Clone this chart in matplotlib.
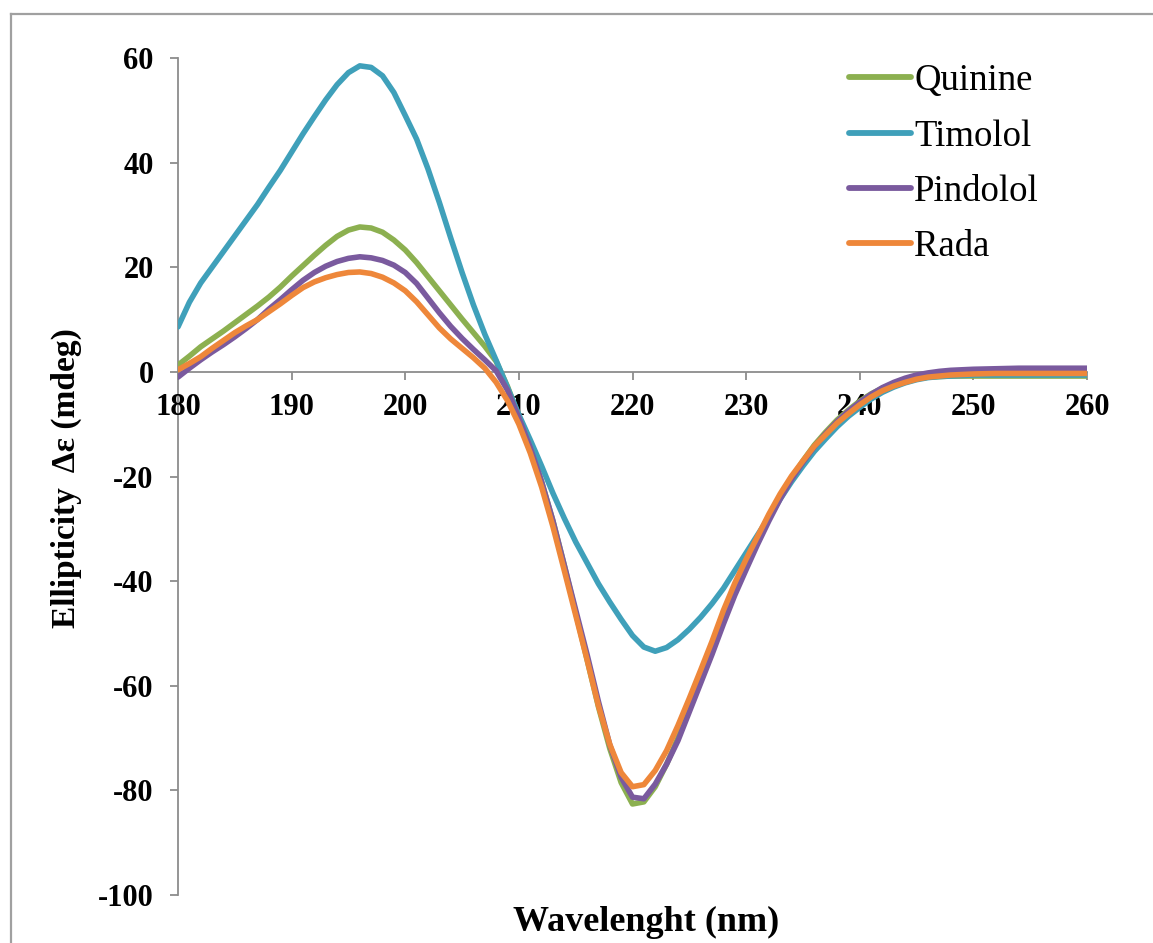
import matplotlib
matplotlib.use("Agg")
import matplotlib.pyplot as plt
from matplotlib.lines import Line2D

wavelength = list(range(180, 251)) + [252, 254, 256, 258, 260]

quinine = [1.3, 3.0, 4.8, 6.3, 7.8, 9.4, 11.0, 12.6, 14.3, 16.2,
           18.3, 20.3, 22.3, 24.2, 25.9, 27.1, 27.7, 27.5, 26.7, 25.2,
           23.3, 20.9, 18.2, 15.5, 12.8, 10.1, 7.5, 4.9, 2.0, -2.8,
           -8.5, -14.5, -21.0, -28.5, -37.0, -46.0, -55.0, -64.0, -72.0, -78.5,
           -82.6, -82.2, -79.3, -75.0, -70.0, -64.5, -59.0, -53.5, -47.5, -42.0,
           -37.0, -32.3, -28.0, -24.0, -20.3, -17.0, -14.0, -11.5, -9.2, -7.3,
           -5.6, -4.2, -3.1, -2.3, -1.7, -1.3, -1.0, -0.9, -0.8, -0.8,
           -0.8, -0.8, -0.8, -0.8, -0.8, -0.8]

timolol = [8.6, 13.3, 17.0, 20.0, 23.0, 26.0, 29.0, 32.0, 35.3, 38.5,
           42.0, 45.5, 48.8, 52.0, 54.9, 57.2, 58.5, 58.2, 56.6, 53.4,
           49.0, 44.5, 38.8, 32.4, 25.6, 19.0, 12.8, 7.2, 2.2, -3.0,
           -8.2, -13.0, -18.0, -23.2, -28.0, -32.5, -36.5, -40.5, -44.0, -47.3,
           -50.4, -52.6, -53.4, -52.7, -51.2, -49.2, -46.9, -44.3, -41.4, -38.0,
           -34.6, -31.2, -27.8, -24.3, -21.0, -18.0, -15.2, -12.8, -10.5, -8.5,
           -6.8, -5.2, -3.9, -2.9, -2.1, -1.5, -1.1, -0.9, -0.8, -0.7,
           -0.6, -0.6, -0.6, -0.6, -0.6, -0.6]

pindolol = [-1.0, 0.7, 2.3, 3.8, 5.2, 6.7, 8.3, 10.0, 12.0, 13.8,
            15.7, 17.5, 19.0, 20.2, 21.1, 21.7, 22.0, 21.8, 21.3, 20.4,
            19.0, 16.9, 14.1, 11.3, 8.7, 6.4, 4.3, 2.3, 0.2, -3.5,
            -8.8, -14.5, -21.0, -28.5, -37.0, -45.5, -54.0, -63.0, -71.3, -77.5,
            -81.3, -81.6, -78.8, -75.0, -70.5, -65.0, -59.5, -54.0, -48.2, -42.7,
            -37.8, -33.0, -28.5, -24.3, -20.5, -17.3, -14.3, -11.8, -9.5, -7.5,
            -5.8, -4.3, -3.0, -2.0, -1.2, -0.6, -0.2, 0.1, 0.3, 0.4,
            0.5, 0.6, 0.7, 0.7, 0.7, 0.7]

rada = [0.4, 1.6, 2.9, 4.5, 6.0, 7.5, 8.8, 10.0, 11.5, 13.0,
        14.6, 16.1, 17.2, 18.0, 18.6, 19.0, 19.1, 18.8, 18.1, 17.0,
        15.5, 13.4, 10.9, 8.4, 6.3, 4.5, 2.7, 0.7, -2.0, -5.5,
        -10.0, -15.5, -22.0, -29.6, -38.0, -46.5, -55.0, -63.8, -71.2, -76.6,
        -79.3, -78.9, -76.2, -72.4, -67.6, -62.4, -57.0, -51.5, -45.6, -40.4,
        -35.8, -31.5, -27.2, -23.3, -19.9, -17.0, -14.2, -12.0, -9.8, -8.0,
        -6.3, -4.8, -3.6, -2.7, -2.0, -1.4, -1.0, -0.8, -0.6, -0.5,
        -0.4, -0.3, -0.3, -0.3, -0.3, -0.3]

series_names = ["Quinine", "Timolol", "Pindolol", "Rada"]
series_values = [quinine, timolol, pindolol, rada]
series_colors = ["#8CB050", "#3FA0BA", "#7A5A9E", "#EE873A"]

x_ticks = [180, 190, 200, 210, 220, 230, 240, 250, 260]
y_ticks = [-100, -80, -60, -40, -20, 0, 20, 40, 60]

serif = ["Liberation Serif", "DejaVu Serif"]
plt.rcParams["font.family"] = serif

W, H = 1153, 943
fig = plt.figure(figsize=(W / 100, H / 100), dpi=100)
ax = fig.add_axes([178 / W, 1 - 895 / H, (1087 - 178) / W, (895 - 58) / H])

for name, vals, col in zip(series_names, series_values, series_colors):
    ax.plot(wavelength, vals, color=col, lw=4.0, solid_capstyle="round",
            solid_joinstyle="round", label=name)

ax.set_xlim(180, 260)
ax.set_ylim(-100, 60)
ax.set_xticks(x_ticks)
ax.set_yticks(y_ticks)
ax.set_xticklabels([str(t) for t in x_ticks])
ax.set_yticklabels([str(t) for t in y_ticks])

spine_col = "#8C8C8C"
ax.spines["top"].set_visible(False)
ax.spines["right"].set_visible(False)
ax.spines["bottom"].set_position(("data", 0))
for s in ("left", "bottom"):
    ax.spines[s].set_color(spine_col)
    ax.spines[s].set_linewidth(1.3)
    ax.spines[s].set_zorder(0.5)

ax.tick_params(axis="x", direction="out", length=5.5, width=1.3, color=spine_col,
               pad=10, labelsize=22)
ax.tick_params(axis="y", direction="out", length=5.5, width=1.3, color=spine_col,
               pad=12, labelsize=22)
for lab in ax.get_xticklabels() + ax.get_yticklabels():
    lab.set_fontweight("bold")

fig.text(66 / W, 1 - 478 / H, "Ellipticity  \u0394\u03b5 (mdeg)", rotation=90,
         ha="center", va="center", fontsize=24, fontweight="bold", family=serif)
fig.text(646 / W, 1 - 922 / H, "Wavelenght (nm)", ha="center", va="center",
         fontsize=26, fontweight="bold", family=serif)

# legend drawn manually to match the reference placement
legend_rows_px = [77, 133, 188, 243]
for name, col, ypx in zip(series_names, series_colors, legend_rows_px):
    yf = 1 - ypx / H
    fig.add_artist(Line2D([849 / W, 911 / W], [yf, yf], transform=fig.transFigure,
                          color=col, lw=4.2, solid_capstyle="round"))
    fig.text(914 / W, 1 - (ypx + 13) / H, name, ha="left", va="baseline",
             fontsize=26.5, family=serif, color="black")

# figure border (left and top edges visible)
fig.add_artist(Line2D([11 / W, 11 / W], [0, 1 - 14 / H], transform=fig.transFigure,
                      color="#A0A0A0", lw=1.6))
fig.add_artist(Line2D([11 / W, 1], [1 - 14 / H, 1 - 14 / H], transform=fig.transFigure,
                      color="#A0A0A0", lw=1.6))

fig.savefig("out.png", dpi=100, facecolor="white")
